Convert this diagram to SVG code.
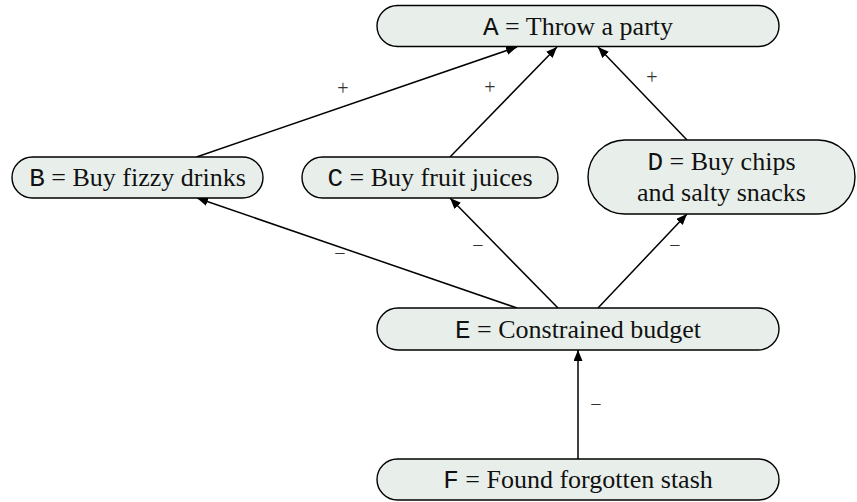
<svg xmlns="http://www.w3.org/2000/svg" width="857" height="502" viewBox="0 0 857 502">
<style>
.box{fill:#e8efea;stroke:#000;stroke-width:1.4}
.t{font-family:"Liberation Serif","Times New Roman",serif;font-size:26px;fill:#111;text-anchor:middle}
.m{font-family:"Liberation Mono","Courier New",monospace}
.e{stroke:#000;stroke-width:1.5;fill:none;marker-end:url(#ah)}
.l{font-family:"Liberation Serif","Times New Roman",serif;font-size:20px;fill:#333;text-anchor:middle}
</style>
<defs>
<marker id="ah" markerUnits="userSpaceOnUse" markerWidth="12" markerHeight="10" refX="11" refY="4.5" orient="auto">
<path d="M0,0 L11,4.5 L0,9 Z" fill="#000"/>
</marker>
</defs>
<g id="connectors">
<line class="e" x1="196.5" y1="157" x2="517" y2="47"/>
<line class="e" x1="450" y1="157" x2="557" y2="47"/>
<line class="e" x1="687" y1="140" x2="598" y2="47"/>
<line class="e" x1="517" y1="308" x2="197" y2="198"/>
<line class="e" x1="558" y1="308" x2="450" y2="198"/>
<line class="e" x1="598" y1="308" x2="687" y2="214"/>
<line class="e" x1="578" y1="459" x2="578" y2="350"/>
<text class="l" x="343" y="95">+</text>
<text class="l" x="490" y="94">+</text>
<text class="l" x="652" y="84">+</text>
<text class="l" x="340" y="260">−</text>
<text class="l" x="478" y="252">−</text>
<text class="l" x="675" y="252">−</text>
<text class="l" x="596" y="411">−</text>
</g>
<g id="A">
<rect class="box" x="377" y="5.5" width="402" height="41" rx="20.5"/>
<text class="t" x="578" y="34.5"><tspan class="m">A</tspan> = Throw a party</text>
</g>
<g id="B">
<rect class="box" x="12" y="157" width="251" height="41" rx="20.5"/>
<text class="t" x="137.5" y="186"><tspan class="m">B</tspan> = Buy fizzy drinks</text>
</g>
<g id="C">
<rect class="box" x="302" y="157" width="256" height="41" rx="20.5"/>
<text class="t" x="430" y="186"><tspan class="m">C</tspan> = Buy fruit juices</text>
</g>
<g id="D">
<rect class="box" x="588" y="140" width="267" height="74" rx="37"/>
<text class="t" x="721.5" y="170"><tspan class="m">D</tspan> = Buy chips</text>
<text class="t" x="721.5" y="201">and salty snacks</text>
</g>
<g id="E">
<rect class="box" x="377" y="308" width="402" height="42" rx="21"/>
<text class="t" x="578" y="337.5"><tspan class="m">E</tspan> = Constrained budget</text>
</g>
<g id="F">
<rect class="box" x="377" y="459" width="402" height="41" rx="20.5"/>
<text class="t" x="578" y="488"><tspan class="m">F</tspan> = Found forgotten stash</text>
</g>
</svg>
